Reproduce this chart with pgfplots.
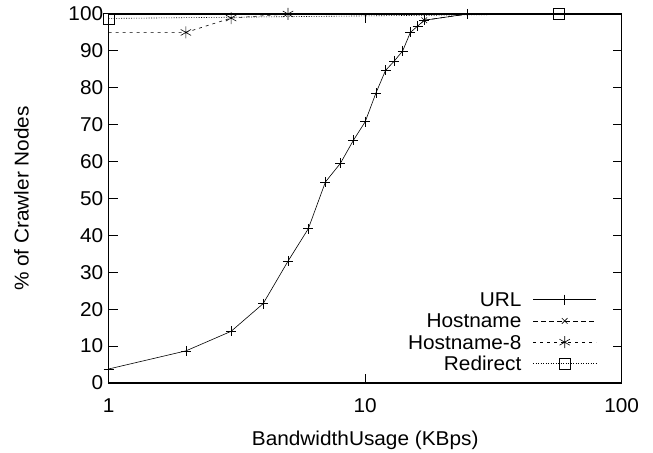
\documentclass[border=0pt]{standalone}
\usepackage{fontspec}
\setmainfont{Liberation Sans}[FakeStretch=1.04]
\usepackage{pgfplots}
\pgfplotsset{compat=1.18}
\newcommand{\bigf}{\fontsize{20bp}{23bp}\selectfont}
\begin{document}
\begin{tikzpicture}[font=\bigf]
\begin{axis}[
  name=ax,
  scale only axis, width=513bp, height=369bp,
  xmode=log, log basis x=10,
  xmin=1, xmax=100, ymin=0, ymax=100,
  xtick={1,10,100}, xticklabels={1,10,100},
  ytick={0,10,...,100},
  /pgf/number format/assume math mode=true,
  tick label style={font=\bigf},
  label style={font=\bigf},
  tick align=inside, major tick length=9bp, minor tick length=5bp,
  every tick/.style={black, line width=0.8bp},
  axis line style={line width=1.3bp},
  xticklabel style={anchor=base, yshift=-29.7bp},
  yticklabel style={xshift=-2bp},
  xlabel={BandwidthUsage (KBps)},
  ylabel={\% of Crawler Nodes},
  xlabel style={at={(axis description cs:0.5,-0.1688)}, anchor=base},
  ylabel style={at={(axis description cs:-0.17,0.5)}, anchor=center},
  legend plot pos=right,
  legend cell align=right,
  legend style={draw=none, fill=none, at={(rel axis cs:1,0)}, anchor=south east,
    xshift=-25bp, yshift=10.8bp, inner sep=0pt, row sep=4.3bp, font=\bigf,
    nodes={inner sep=1.5bp, text height=14bp, text depth=0bp},
    /tikz/every odd column/.style={column sep=10bp}},
  legend image code/.code={\draw[#1, mark indices={2}] plot coordinates {(0bp,0bp) (31.5bp,0bp) (63bp,0bp)};},
]
\addplot[black, line width=0.6bp, mark=+, mark size=5bp, mark options={solid}] coordinates {
 (1,3.8) (2,8.7) (3,14) (4,21.5) (5,33) (6,41.8) (7,54.5) (8,59.5) (9,65.8) (10,70.8)
 (11,78.5) (12,84.7) (13,87.3) (14,90) (15,95) (16,96.7) (17,98.3) (25,100)
};
\addlegendentry{URL}
\addplot[black, line width=0.6bp, dash pattern=on 5bp off 3bp, mark=x, mark size=4bp, mark options={solid}, mark indices={1}] coordinates {
 (17,98.3) (25,100) (100,100)
};
\addlegendentry{Hostname}
\addplot[black, line width=0.6bp, dash pattern=on 3bp off 4bp, mark=asterisk, mark size=6bp, mark options={solid}, mark indices={2,3,4}] coordinates {
 (1,95) (2,95) (3,98.9) (5,100) (100,100)
};
\addlegendentry{Hostname-8}
\addplot[black, line width=0.6bp, dash pattern=on 1bp off 1.5bp, mark=square, mark size=5.5bp, mark options={solid}] coordinates {
 (1,98.8) (57,100)
};
\addlegendentry{Redirect}
\end{axis}
\pgfresetboundingbox
\path (-108.7bp,-70bp) rectangle (544.3bp,383bp);
\end{tikzpicture}
\end{document}
